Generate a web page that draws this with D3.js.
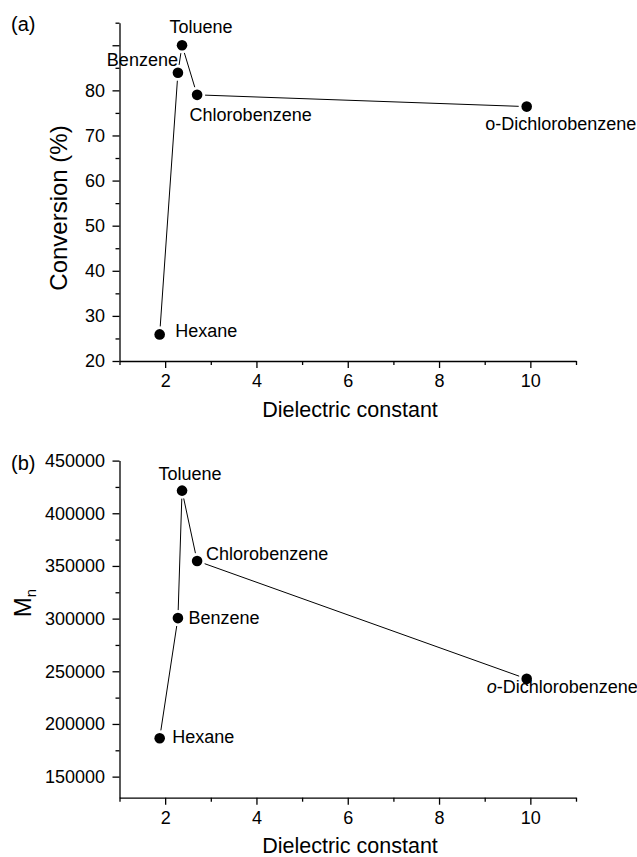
<!DOCTYPE html>
<html><head><meta charset="utf-8">
<script src="https://cdn.jsdelivr.net/npm/d3@7"></script>
<style>
body{margin:0;background:#fff}
svg{display:block}
text{font-family:"Liberation Sans",Arial,Helvetica,sans-serif;fill:#000}
</style>
</head><body><svg id="c" width="637" height="857"></svg>
<script>
// ---------- data ----------
const solvents = ["Hexane", "Benzene", "Toluene", "Chlorobenzene", "o-Dichlorobenzene"];
const dielectric = [1.88, 2.28, 2.37, 2.70, 9.92];
const conversion = [25.9, 83.9, 90.0, 79.0, 76.4];
const mn = [186400, 300500, 421500, 354700, 242800];
const xTicks = [2, 4, 6, 8, 10];
const xMinorTicks = [1, 3, 5, 7, 9, 11];
const convTicks = [20, 30, 40, 50, 60, 70, 80, 90];
const convTickLabels = ["20", "30", "40", "50", "60", "70", "80", ""];
const convMinorTicks = [25, 35, 45, 55, 65, 75, 85, 95];
const mnTicks = [150000, 200000, 250000, 300000, 350000, 400000, 450000];
const mnMinorTicks = [175000, 225000, 275000, 325000, 375000, 425000];

// ---------- layout ----------
const W = 637, H = 857;
const svg = d3.select("#c");
const fontTick = 18, fontLabel = 18, fontTitle = 21.5;
const MAJ = 7, MIN = 4;
// label offsets (px) relative to marker centre: [dx, dy, anchor]
const labelLayoutA = [[15.5, 3, "start"], [0, -7, "end"], [19, -12.5, "middle"], [-7.5, 26.5, "start"], [-41.5, 23, "start"]];
const labelLayoutB = [[12.5, 5, "start"], [10.5, 6, "start"], [8, -11, "middle"], [9, -1.3, "start"], [-40, 13.7, "start"]];

const panels = [
  {
    tag: "(a)", tagY: 31,
    yVals: conversion, yDomain: [20, 95], yRange: [361, 22.7],
    yTicks: convTicks, yFmt: (d, i) => convTickLabels[i], yMinor: convMinorTicks,
    yTitle: "Conversion (%)", yTitleY: 208, yTitleX: 67,
    xTitleY: 417, labels: labelLayoutA, italicO: false
  },
  {
    tag: "(b)", tagY: 470,
    yVals: mn, yDomain: [130000, 450000], yRange: [797.7, 460.6],
    yTicks: mnTicks, yFmt: d => String(d), yMinor: mnMinorTicks,
    yTitle: null, yTitleY: 603, yTitleX: 31,
    xTitleY: 853, labels: labelLayoutB, italicO: true
  }
];

panels.forEach(p => {
  const x = d3.scaleLinear().domain([1, 11]).range([119.5, 576]);
  const y = d3.scaleLinear().domain(p.yDomain).range(p.yRange);
  const g = svg.append("g");
  const x0 = x.range()[0], yBase = p.yRange[0];

  // x axis
  g.append("g").attr("transform", `translate(0,${yBase})`)
    .call(d3.axisBottom(x).tickValues(xTicks).tickSize(MAJ).tickSizeOuter(0).tickPadding(6.5).tickFormat(d3.format("d")));
  g.append("g").attr("transform", `translate(0,${yBase})`)
    .call(d3.axisBottom(x).tickValues(xMinorTicks).tickSize(MIN).tickSizeOuter(0).tickFormat(""))
    .call(s => s.select(".domain").remove());
  // y axis
  g.append("g").attr("transform", `translate(${x0},0)`)
    .call(d3.axisLeft(y).tickValues(p.yTicks).tickSize(MAJ).tickSizeOuter(0).tickPadding(7.5).tickFormat(p.yFmt));
  g.append("g").attr("transform", `translate(${x0},0)`)
    .call(d3.axisLeft(y).tickValues(p.yMinor).tickSize(MIN).tickSizeOuter(0).tickFormat(""))
    .call(s => s.select(".domain").remove());

  g.selectAll(".domain, .tick line").attr("stroke", "#000").attr("stroke-width", 1.3);
  g.selectAll(".tick text").attr("font-size", fontTick).attr("font-family", '"Liberation Sans",Arial,sans-serif').attr("fill", "#000");

  // connecting lines with gaps around markers
  const pts = dielectric.map((d, i) => [x(d), y(p.yVals[i])]);
  const gap = 8;
  for (let i = 0; i < pts.length - 1; i++) {
    const [ax, ay] = pts[i], [bx, by] = pts[i + 1];
    const L = Math.hypot(bx - ax, by - ay);
    const ux = (bx - ax) / L, uy = (by - ay) / L;
    g.append("line")
      .attr("x1", ax + ux * gap).attr("y1", ay + uy * gap)
      .attr("x2", bx - ux * gap).attr("y2", by - uy * gap)
      .attr("stroke", "#000").attr("stroke-width", 1);
  }
  // markers
  g.selectAll("circle.pt").data(pts).join("circle")
    .attr("class", "pt").attr("cx", d => d[0]).attr("cy", d => d[1]).attr("r", 5.3).attr("fill", "#000");

  // point labels
  solvents.forEach((name, i) => {
    const [dx, dy, anchor] = p.labels[i];
    const t = g.append("text").attr("x", pts[i][0] + dx).attr("y", pts[i][1] + dy)
      .attr("text-anchor", anchor).attr("font-size", fontLabel);
    if (p.italicO && name.startsWith("o-")) {
      t.append("tspan").attr("font-style", "italic").text("o");
      t.append("tspan").text(name.slice(1));
    } else t.text(name);
  });

  // x title
  g.append("text").attr("x", 350).attr("y", p.xTitleY).attr("text-anchor", "middle")
    .attr("font-size", fontTitle).text("Dielectric constant");
  // y title
  const yt = g.append("text").attr("transform", `translate(${p.yTitleX},${p.yTitleY}) rotate(-90)`)
    .attr("text-anchor", "middle").attr("font-size", 24);
  if (p.yTitle) yt.text(p.yTitle);
  else {
    yt.append("tspan").text("M");
    yt.append("tspan").attr("font-size", 15).attr("dy", 5).text("n");
  }
  // panel tag
  g.append("text").attr("x", 11).attr("y", p.tagY).attr("font-size", 20).text(p.tag);
});
</script>
</body></html>
